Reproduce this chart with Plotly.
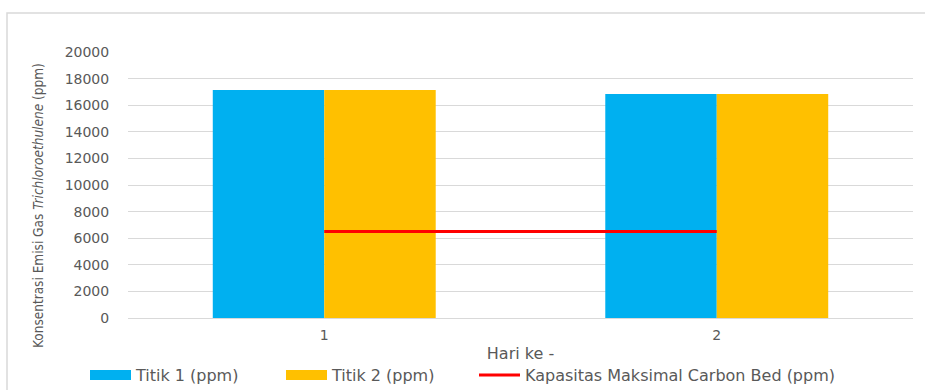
import plotly.graph_objects as go

days = ["1", "2"]
titik1 = [17150, 16850]
titik2 = [17150, 16850]
kapasitas = [6500, 6500]
y_ticks = [0, 2000, 4000, 6000, 8000, 10000, 12000, 14000, 16000, 18000, 20000]

BLUE = "#00B0F0"
ORANGE = "#FFC000"
RED = "#FF0000"
GRID = "#D9D9D9"
TXT = "#595959"

fig = go.Figure()
fig.add_trace(go.Bar(x=days, y=titik1, name="Titik 1 (ppm)", marker_color=BLUE,
                     marker_line_width=0, showlegend=False))
fig.add_trace(go.Bar(x=days, y=titik2, name="Titik 2 (ppm)", marker_color=ORANGE,
                     marker_line_width=0, showlegend=False))
fig.add_trace(go.Scatter(x=days, y=kapasitas, mode="lines", showlegend=False,
                         name="Kapasitas Maksimal Carbon Bed (ppm)",
                         line=dict(color=RED, width=3)))
# legend-only entries (wide swatches)
fig.add_trace(go.Scatter(x=[None], y=[None], mode="lines", name="Titik 1 (ppm)",
                         line=dict(color=BLUE, width=10), legend="legend"))
fig.add_trace(go.Scatter(x=[None], y=[None], mode="lines", name="Titik 2 (ppm)",
                         line=dict(color=ORANGE, width=10), legend="legend"))
fig.add_trace(go.Scatter(x=[None], y=[None], mode="lines",
                         name="Kapasitas Maksimal Carbon Bed (ppm)",
                         line=dict(color=RED, width=3), legend="legend2"))

leg_y = -(358 - 318) / 266
fig.update_layout(
    width=925, height=390,
    margin=dict(l=128, r=12, t=52, b=72, autoexpand=False),
    paper_bgcolor="white", plot_bgcolor="white",
    barmode="group", bargap=0.432, bargroupgap=0,
    font=dict(family="DejaVu Sans", color=TXT, size=14),
    showlegend=True,
    legend=dict(orientation="h", x=(85 - 128) / 785, xanchor="left",
                y=leg_y, yanchor="top",
                itemwidth=41, entrywidth=140,
                font=dict(family="DejaVu Sans", size=16, color=TXT),
                bgcolor="rgba(0,0,0,0)"),
    legend2=dict(orientation="h", x=(474 - 128) / 785, xanchor="left",
                 y=leg_y, yanchor="top",
                 itemwidth=41,
                 font=dict(family="DejaVu Sans", size=16, color=TXT),
                 bgcolor="rgba(0,0,0,0)"),
    xaxis=dict(showgrid=False, showline=False, zeroline=False,
               ticks="outside", ticklen=4, tickcolor="rgba(0,0,0,0)",
               tickfont=dict(size=14, color=TXT),
               title=dict(text="Hari ke -", font=dict(size=16, color=TXT), standoff=6)),
    yaxis=dict(range=[0, 20000], tickvals=y_ticks, ticktext=[str(v) for v in y_ticks],
               showgrid=True, gridcolor=GRID, gridwidth=1,
               zeroline=True, zerolinecolor=GRID, zerolinewidth=1,
               showline=False, ticks="outside", ticklen=15, tickcolor="rgba(0,0,0,0)",
               tickfont=dict(size=14, color=TXT)),
)

fig.add_annotation(
    text="Konsentrasi Emisi Gas <i>Trichloroethulene</i> (ppm)",
    xref="paper", yref="paper", x=(38 - 128) / 785, y=(318 - 206) / 266,
    xanchor="center", yanchor="middle", textangle=-90, showarrow=False,
    font=dict(family="Liberation Sans Narrow, DejaVu Sans Condensed", size=13.5, color=TXT),
)

fig.add_shape(type="rect", xref="paper", yref="paper",
              x0=(7 - 128) / 785, x1=(930 - 128) / 785,
              y0=(318 - 400) / 266, y1=(318 - 13) / 266,
              line=dict(color=GRID, width=1.5), layer="below")

fig.write_html("out.html")
